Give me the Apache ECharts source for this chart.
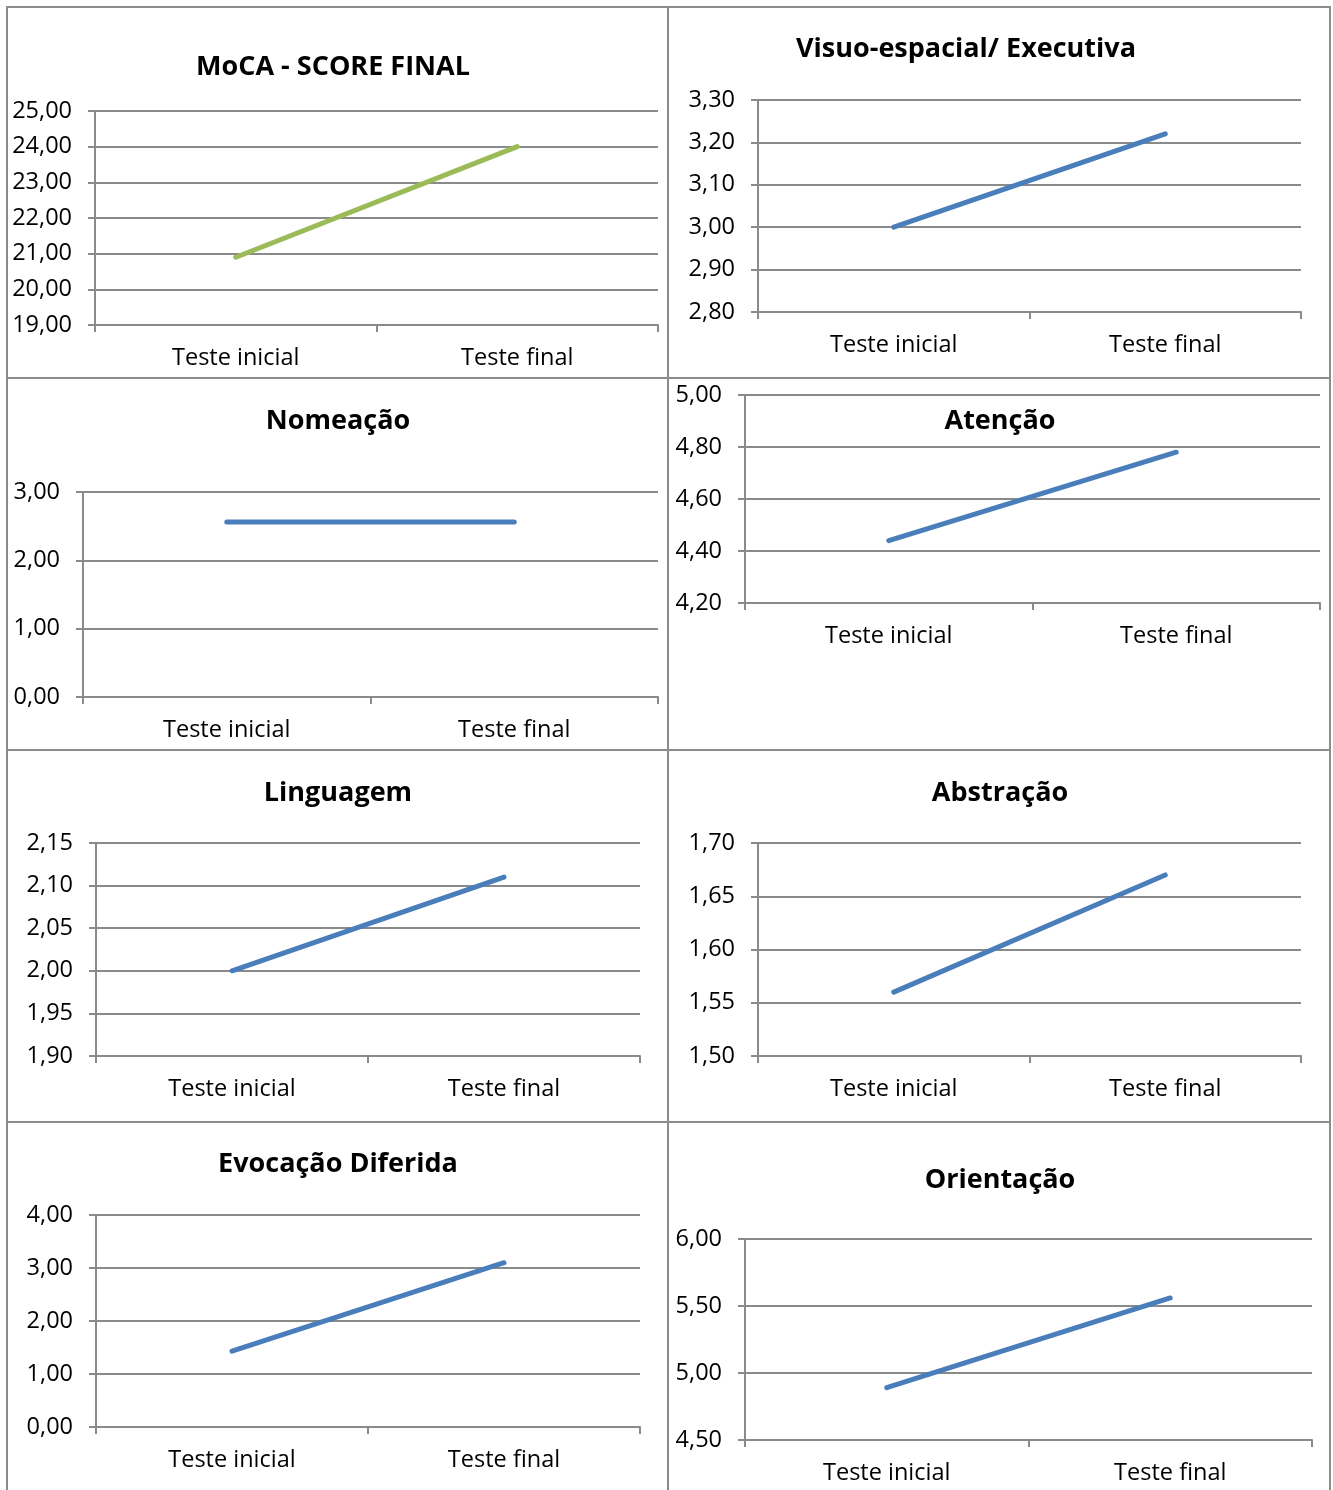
<!DOCTYPE html>
<html><head><meta charset="utf-8">
<script src="https://cdn.jsdelivr.net/npm/echarts@6/dist/echarts.min.js"></script>
<style>html,body{margin:0;padding:0;background:#fff}#c{width:1333px;height:1490px}</style>
</head><body><div id="c"></div>
<script>
const categories = ['Teste inicial', 'Teste final'];
const titles = ['MoCA - SCORE FINAL', 'Visuo-espacial/ Executiva', 'Nomeação', 'Atenção', 'Linguagem', 'Abstração', 'Evocação Diferida', 'Orientação'];
const mocaValues = [20.9, 24.0];
const visuoValues = [3.00, 3.22];
const nomeacaoValues = [2.56, 2.56];
const atencaoValues = [4.44, 4.78];
const linguagemValues = [2.00, 2.11];
const abstracaoValues = [1.56, 1.67];
const evocacaoValues = [1.43, 3.10];
const orientacaoValues = [4.89, 5.56];
const seriesValues = [mocaValues, visuoValues, nomeacaoValues, atencaoValues, linguagemValues, abstracaoValues, evocacaoValues, orientacaoValues];
const yMin = [19, 2.8, 0, 4.2, 1.9, 1.5, 0, 4.5];
const yMax = [25, 3.3, 3, 5.0, 2.15, 1.7, 4, 6];
const yStep = [1, 0.1, 1, 0.2, 0.05, 0.05, 1, 0.5];

// layout (pixels)
const grids = [
  {left: 95, top: 111, width: 563, height: 214},
  {left: 758, top: 100, width: 543, height: 212},
  {left: 83, top: 492, width: 575, height: 205},
  {left: 745, top: 395, width: 575, height: 208},
  {left: 96, top: 843, width: 544, height: 213},
  {left: 758, top: 843, width: 543, height: 213},
  {left: 96, top: 1215, width: 544, height: 212},
  {left: 745, top: 1239, width: 567, height: 201}
];
const titlePos = [[328, 68], [961, 50], [333, 422], [995, 422], [333, 794], [995, 794], [333, 1165], [995, 1181]];
const colors = ['#9BBB59', '#4A7EBB', '#4A7EBB', '#4A7EBB', '#4A7EBB', '#4A7EBB', '#4A7EBB', '#4A7EBB'];

const FONT = 'Open Sans';
const gridColor = '#8a8a8a';

const chart = echarts.init(document.getElementById('c'), null, {renderer: 'canvas'});
const fmt = v => (Math.round(v * 100) / 100).toFixed(2).replace('.', ',');

const option = {
  backgroundColor: '#fff',
  animation: false,
  title: titles.map((t, i) => ({
    text: t,
    left: titlePos[i][0], top: titlePos[i][1] - 19,
    textAlign: 'center',
    textStyle: {fontFamily: FONT, fontWeight: 'bold', fontSize: 27, color: '#000'}
  })),
  grid: grids.map(g => Object.assign({containLabel: false}, g)),
  xAxis: grids.map((g, i) => ({
    type: 'category', gridIndex: i, data: categories, boundaryGap: true,
    axisLine: {lineStyle: {color: gridColor, width: 2}},
    axisTick: {show: true, length: 7, lineStyle: {color: gridColor, width: 2}},
    axisLabel: {fontFamily: FONT, fontSize: 23.5, color: '#000', margin: 21}
  })),
  yAxis: grids.map((g, i) => ({
    type: 'value', gridIndex: i, min: yMin[i], max: yMax[i], interval: yStep[i],
    axisLine: {show: true, lineStyle: {color: gridColor, width: 2}},
    axisTick: {show: true, length: 7, lineStyle: {color: gridColor, width: 2}},
    splitLine: {show: true, lineStyle: {color: gridColor, width: 2}},
    axisLabel: {fontFamily: FONT, fontSize: 23.5, color: '#000', margin: 23, formatter: fmt}
  })),
  series: seriesValues.map((vals, i) => ({
    type: 'line', xAxisIndex: i, yAxisIndex: i, data: vals,
    symbol: 'none', lineStyle: {color: colors[i], width: 5, cap: 'round'}
  })),
  graphic: [
    {type: 'rect', shape: {x: 7, y: 7, width: 1323, height: 1500}, style: {fill: 'none', stroke: '#8c8c8c', lineWidth: 2}, silent: true},
    {type: 'line', shape: {x1: 668, y1: 7, x2: 668, y2: 1490}, style: {stroke: '#8c8c8c', lineWidth: 2}, silent: true},
    {type: 'line', shape: {x1: 7, y1: 378, x2: 1330, y2: 378}, style: {stroke: '#8c8c8c', lineWidth: 2}, silent: true},
    {type: 'line', shape: {x1: 7, y1: 750, x2: 1330, y2: 750}, style: {stroke: '#8c8c8c', lineWidth: 2}, silent: true},
    {type: 'line', shape: {x1: 7, y1: 1122, x2: 1330, y2: 1122}, style: {stroke: '#8c8c8c', lineWidth: 2}, silent: true}
  ]
};
chart.setOption(option);
</script></body></html>
